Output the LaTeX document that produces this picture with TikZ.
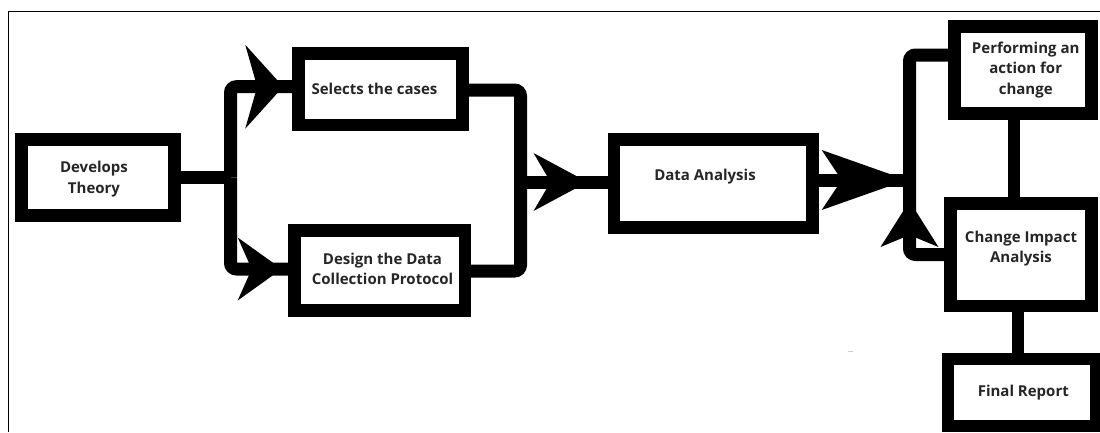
\documentclass[tikz,border=0pt]{standalone}
\usepackage{fontspec}
\setmainfont{Open Sans}
\usetikzlibrary{arrows.meta,decorations.markings,calc}
\tikzset{
  box/.style={draw=black, line width=12.7pt, inner sep=0pt, fill=white},
  txt/.style={font=\fontsize{15}{20.5}\selectfont\bfseries, align=center, inner sep=0pt, text=black!85},
  conn/.style={draw=black, line width=13pt, rounded corners=6pt},
  tipmark/.style n args={4}{postaction={decorate,decoration={markings,
      mark=at position #1 with {\arrow{Stealth[length=#2,width=#3,inset=#4,line width=0pt]}}}}},
}
\begin{document}
\begin{tikzpicture}[x=1pt,y=-1pt]
\useasboundingbox (0,0) rectangle (1100,432);
% outer frame
\draw[line width=1.5pt] (8.3,432) -- (8.3,11.7) -- (1100,11.7);

% junction coordinates
\coordinate (lTop) at (230.5,86.7);
\coordinate (lMid) at (230.5,177.5);
\coordinate (lBot) at (230.5,269);
\coordinate (mTop) at (520.5,90);
\coordinate (mMid) at (520.5,182);
\coordinate (mBot) at (520.5,271);
\coordinate (rTop) at (909.5,55);
\coordinate (rMid) at (909.5,180);
\coordinate (rBot) at (909.5,254.5);
\coordinate (xPC) at (1014,0);
\coordinate (xCF) at (1018,0);

% connectors (drawn first, boxes on top)
\path[conn] (97.9,177.5) -- (lMid);
\path[conn, tipmark={-15.5pt}{38pt}{84pt}{12pt}] (lMid) -- (lTop) -- (298.7,86.7);
\path[conn, tipmark={-13pt}{44pt}{63pt}{14pt}] (lMid) -- (lBot) -- (294.7,269);
\path[conn] (462,90) -- (mTop) -- (mBot) -- (465,271);
\path[conn, tipmark={-26.5pt}{54pt}{58pt}{17pt}] (mMid) -- (614,182);
\path[conn, tipmark={-2.8pt}{85pt}{60pt}{20pt}] (812,180) -- (rMid);
\path[conn, tipmark={91.4pt}{46pt}{58pt}{12pt}] (950,254.5) -- (rBot) -- (rTop) -- (954.5,55);
\path[conn, line width=12pt] (1014,70) -- (1014,255);
\path[conn, line width=12pt] (1018,255) -- (1018,392);

% boxes
\node[box, minimum width=153.2pt, minimum height=76.4pt] (Dev) at (97.9,177.5) {};
\node[box, minimum width=163.5pt, minimum height=71.7pt] (Sel) at (380.5,89.2) {};
\node[box, minimum width=170.3pt, minimum height=79.8pt] (Des) at (379.9,270.6) {};
\node[box, minimum width=198.8pt, minimum height=88.5pt] (DA) at (713.4,183.5) {};
\node[box, minimum width=137.2pt, minimum height=87.5pt] (Perf) at (1023.1,70) {};
\node[box, minimum width=141.4pt, minimum height=102.3pt] (Chg) at (1021,254.9) {};
\node[box, minimum width=148pt, minimum height=67pt] (Fin) at (1022,392.5) {};

% texts
\node[txt] (tDev) at (94,179) {Develops\\Theory};
\node[txt] (tSel) at (374.5,89) {Selects the cases};
\node[txt] (tDes) at (382.5,269) {Design the Data\\Collection Protocol};
\node[txt] (tDA) at (705,177) {Data Analysis};
\node[txt] (tPerf) at (1025.7,70) {Performing an\\action for\\change};
\node[txt] (tChg) at (1021,248.7) {Change Impact\\Analysis};
\node[txt] (tFin) at (1023.3,392.7) {Final Report};

% faint speck
\draw[gray!40, line width=1pt] (848,351) -- (853,351);
\end{tikzpicture}
\end{document}
